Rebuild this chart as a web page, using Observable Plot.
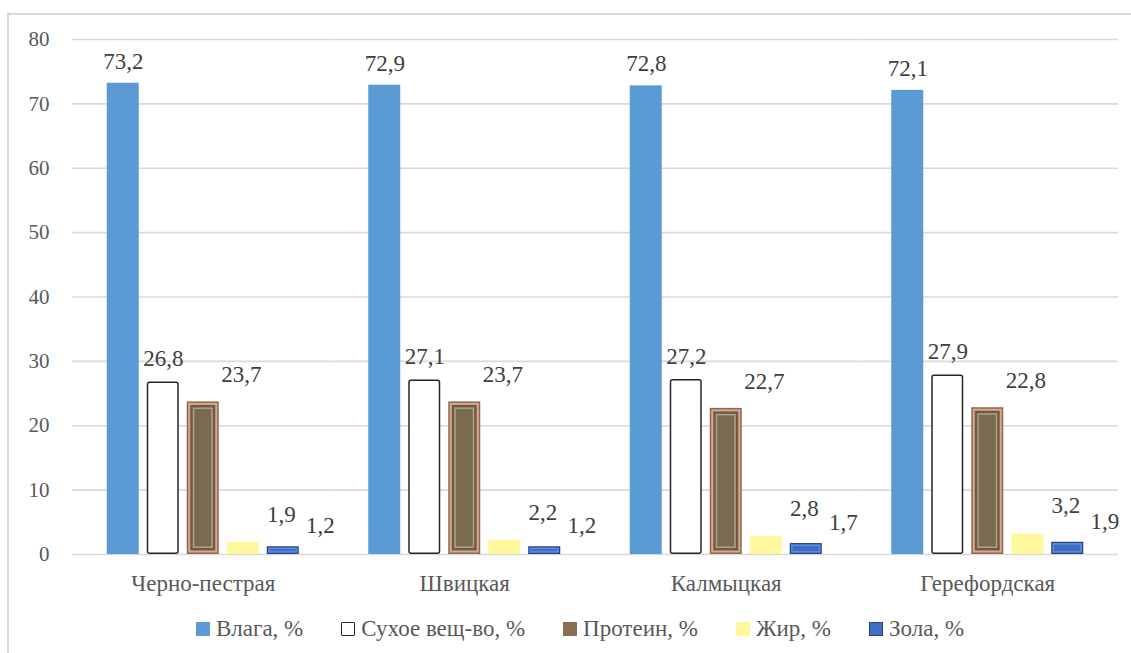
<!DOCTYPE html>
<html>
<head>
<meta charset="utf-8">
<script src="https://cdn.jsdelivr.net/npm/d3@7"></script>
<script src="https://cdn.jsdelivr.net/npm/@observablehq/plot@0.6"></script>
<style>
body { margin: 0; font-family: 'Liberation Serif', serif; }
.frame { position: absolute; left: 7px; top: 13px; width: 1140px; height: 660px; border: 2px solid #d9d9d9; box-sizing: border-box; }
.legend { position: absolute; left: 0; top: 616px; width: 1160px; display: flex; justify-content: center; gap: 38px; font-family: 'Liberation Serif', serif; font-size: 23px; color: #595959; }
.item { display: flex; align-items: center; gap: 6px; }
.sw { width: 14px; height: 14px; box-sizing: border-box; display: inline-block; }
</style>
</head>
<body>
<div id="chart"></div>
<div class="legend" id="legend"></div>
<div class="frame"></div>
<script>
// Breeds and the composition components
const breeds = ["Черно-пестрая", "Швицкая", "Калмыцкая", "Герефордская"];
const components = ["Влага, %", "Сухое вещ-во, %", "Протеин, %", "Жир, %", "Зола, %"];

// Component values per breed, %
const moisture = [73.2, 72.9, 72.8, 72.1];
const dryMatter = [26.8, 27.1, 27.2, 27.9];
const protein = [23.7, 23.7, 22.7, 22.8];
const fat = [1.9, 2.2, 2.8, 3.2];
const ash = [1.2, 1.2, 1.7, 1.9];

const yTicks = [0, 10, 20, 30, 40, 50, 60, 70, 80];

const seriesValues = [moisture, dryMatter, protein, fat, ash];
const rows = breeds.flatMap((breed, i) =>
  components.map((series, j) => ({breed, series, value: seriesValues[j][i]}))
);
const of = (name) => rows.filter((d) => d.series === name);

const fmt = d3.formatLocale({decimal: ",", thousands: " ", grouping: [3], currency: ["", ""]}).format(".1f");

// label placement for each component (offset from the bar top)
const labelShift = {
  "Влага, %": [0, -22],
  "Сухое вещ-во, %": [0, -23],
  "Протеин, %": [38, -27],
  "Жир, %": [38, -28],
  "Зола, %": [37, -21]
};

const bar = (data, opts) => Plot.barY(data, {fx: "breed", x: "series", y: "value", ...opts});

const marks = [
  Plot.ruleY(yTicks, {stroke: "#d9d9d9", strokeWidth: 1.6}),
  Plot.axisY(yTicks, {tickSize: 0, tickPadding: 23, fontSize: 21, fill: "#595959", label: null}),
  Plot.axisFx({anchor: "bottom", tickSize: 0, tickPadding: 20, fontSize: 23, fill: "#595959", label: null}),

  // moisture
  bar(of("Влага, %"), {fill: "#5b9bd5"}),

  // dry matter: outlined bar
  bar(of("Сухое вещ-во, %"), {fill: "#ffffff", stroke: "#262626", strokeWidth: 1.5, rx: 2, inset: 0.75}),

  // protein: bevelled bar
  bar(of("Протеин, %"), {fill: "#7d6e55"}),
  bar(of("Протеин, %"), {fill: "#e6a38b", inset: 1.5}),
  bar(of("Протеин, %"), {fill: "#6c5c43", inset: 3.5}),
  bar(of("Протеин, %"), {fill: "#aca48a", inset: 6}),
  bar(of("Протеин, %"), {fill: "#7a6a4f", inset: 7.5}),

  // fat
  bar(of("Жир, %"), {fill: "#fff79c"}),

  // ash: bevelled blue bar
  bar(of("Зола, %"), {fill: "#22407f"}),
  bar(of("Зола, %"), {fill: "#5a8ade", inset: 1.2}),
  bar(of("Зола, %"), {fill: "#3e6cc2", inset: 3}),

  // value labels
  ...components.map((name) =>
    Plot.text(of(name), {
      fx: "breed", x: "series", y: "value",
      text: (d) => fmt(d.value),
      dx: labelShift[name][0], dy: labelShift[name][1],
      fontSize: 23, fill: "#404040"
    })
  )
];

const chart = Plot.plot({
  width: 1131,
  height: 605,
  marginLeft: 72,
  marginRight: 13,
  marginTop: 39,
  marginBottom: 51,
  style: {fontFamily: "'Liberation Serif', serif", fontSize: "20px"},
  fx: {domain: breeds, padding: 0, round: false},
  x: {domain: components, paddingInner: 0.2, paddingOuter: 0.86875, round: false, axis: null},
  y: {domain: [0, 80], axis: null},
  marks
});
document.getElementById("chart").appendChild(chart);

// legend below the chart
const swatches = {
  "Влага, %": "background:#5b9bd5;",
  "Сухое вещ-во, %": "background:#fff;border:1.5px solid #262626;border-radius:1px;",
  "Протеин, %": "background:#8c6d4f;",
  "Жир, %": "background:#fff79c;",
  "Зола, %": "background:#3f6fc6;border:1.5px solid #22407f;"
};
const legend = document.getElementById("legend");
for (const name of components) {
  const item = document.createElement("div");
  item.className = "item";
  const sw = document.createElement("span");
  sw.className = "sw";
  sw.style.cssText = swatches[name];
  const label = document.createElement("span");
  label.textContent = name;
  item.appendChild(sw);
  item.appendChild(label);
  legend.appendChild(item);
}
</script>
</body>
</html>
